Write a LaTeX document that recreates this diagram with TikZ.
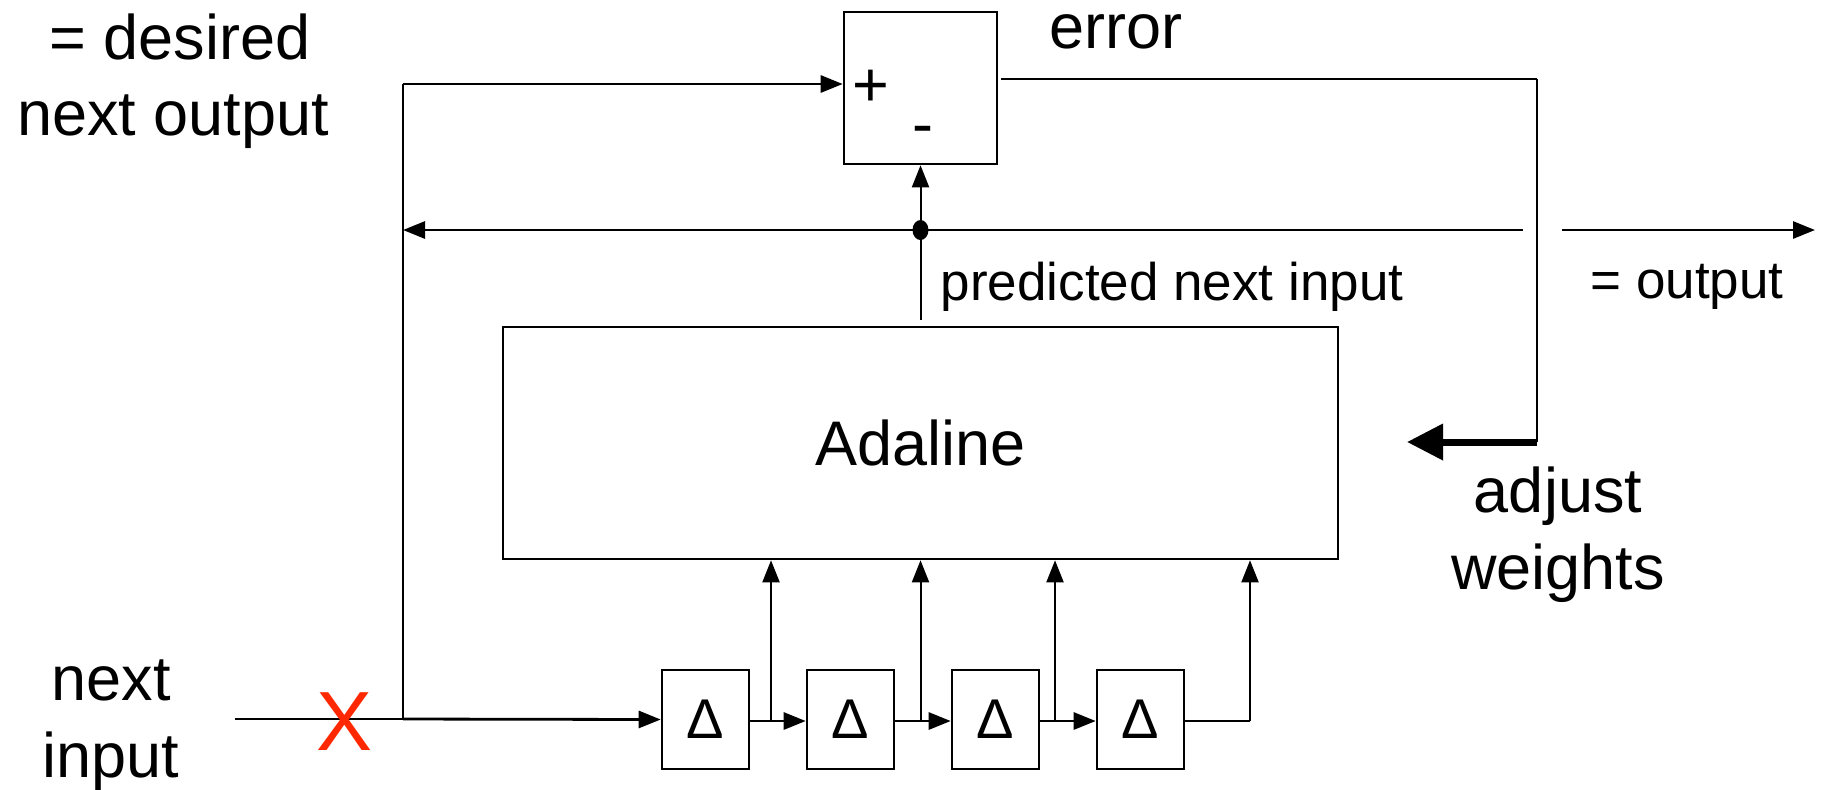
\documentclass[tikz,border=0pt]{standalone}
\usepackage{fontspec}
\setmainfont{Liberation Sans}
\usetikzlibrary{arrows.meta}
\definecolor{xred}{RGB}{255,40,0}
\begin{document}
\begin{tikzpicture}[x=0.5pt,y=-0.5pt,
  blk/.style={draw, line width=1.3pt, inner sep=0pt, fill=white},
  lbig/.style={font=\fontsize{31.5}{38}\selectfont, inner sep=0pt, anchor=base},
  lsmall/.style={font=\fontsize{26.5}{32}\selectfont, inner sep=0pt, anchor=base},
  conn/.style={line width=1.4pt},
  thinl/.style={line width=1pt},
  tip/.style={-{Triangle[length=11pt,width=8.5pt]}},
  bigarr/.style={line width=3.5pt, -{Triangle[length=18pt,width=17.5pt]}}]
\useasboundingbox (0,0) rectangle (1823,789);
% blocks
\node[blk, minimum width=76.5pt, minimum height=76pt] (sum) at (920.5,88) {};
\node[font=\fontsize{31.5}{38}\selectfont, inner sep=0pt] (plus) at (871,88) {+};
\node[font=\fontsize{31.5}{38}\selectfont, inner sep=0pt] (minus) at (923,136) {-};
\node[blk, minimum width=417.5pt, minimum height=116pt, font=\fontsize{31.5}{38}\selectfont] (adaline) at (920.5,443) {Adaline};
\foreach \i/\x in {1/705.5,2/850.5,3/995.5,4/1140.5}
  \node[blk, minimum width=43.5pt, minimum height=49.5pt, font=\fontsize{28}{32}\selectfont] (d\i) at (\x,719.5) {Δ};
% labels
\node[lbig] (ldes) at (180,59) {= desired};
\node[lbig] (lnext) at (173,135) {next output};
\node[lbig] (lerr) at (1116,48) {error};
\node[lsmall] (lpred) at (1172,300) {predicted next input};
\node[lsmall] (lout) at (1687,298) {= output};
\node[lbig] (ladj) at (1558,512) {adjust};
\node[lbig] (lwts) at (1558,589) {weights};
\node[lbig] (lni) at (111,700) {next};
\node[lbig] (lin) at (111,777) {input};
% coordinates
\coordinate (inL) at (235,719);
\coordinate (split) at (403,719);
\coordinate (topL) at (403,84);
\coordinate (fbL) at (403,230);
\coordinate (dot) at (920.5,230);
\coordinate (fbR) at (1523,230);
\coordinate (outL) at (1562,230);
\coordinate (outR) at (1815,230);
\coordinate (errL) at (1001,79);
\coordinate (errR) at (1537,79);
\coordinate (adjC) at (1537,442);
\coordinate (adjTip) at (1407,442);
\coordinate (predB) at (920.5,320);
\coordinate (t1) at (771,721);
\coordinate (t2) at (920.5,721);
\coordinate (t3) at (1055,721);
\coordinate (t4) at (1250,721);
% connectors
\draw[conn] (inL) -- (split);
\draw[conn, tip] (split) -- (d1.west);
\draw[thinl] (split) -- (topL);
\draw[conn, tip] (topL) -- (topL -| sum.west);
\draw[conn, tip] (fbR) -- (fbL);
\fill (dot) ellipse (8 and 10);
\draw[thinl, tip] (predB) -- (sum.south);
\draw[conn, tip] (outL) -- (outR);
\draw[conn] (errL) -- (errR);
\draw[thinl] (errR) -- (adjC);
\draw[bigarr] (adjC) -- (adjTip);
\draw[conn, tip] (d1.east |- t1) -- (d2.west |- t1);
\draw[conn, tip] (d2.east |- t1) -- (d3.west |- t1);
\draw[conn, tip] (d3.east |- t1) -- (d4.west |- t1);
\draw[conn] (d4.east |- t4) -- (t4);
\foreach \t in {t1,t2,t3,t4}
  \draw[thinl, tip] (\t) -- (\t |- adaline.south);
% red X
\node[text=xred, font=\fontsize{42}{42}\selectfont, inner sep=0pt] (xmark) at (345,722) {X};
\end{tikzpicture}
\end{document}
